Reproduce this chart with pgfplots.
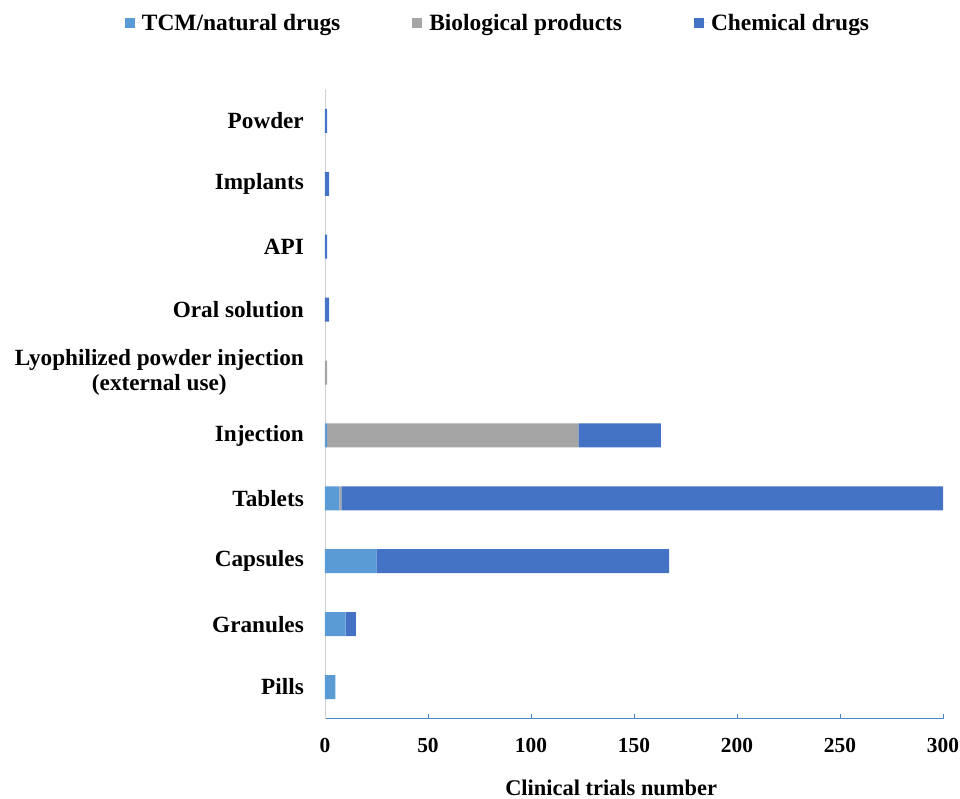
\documentclass[border=0pt]{standalone}
\usepackage{fontspec}
\setmainfont{Liberation Serif}
\usepackage{pgfplots}
\pgfplotsset{compat=1.18}
\definecolor{tcm}{HTML}{5B9BD5}
\definecolor{bio}{HTML}{A5A5A5}
\definecolor{chem}{HTML}{4472C4}
\definecolor{xax}{HTML}{4A86C8}
\definecolor{yax}{HTML}{D0D0D0}
\begin{document}
\begin{tikzpicture}
\begin{axis}[
  at={(0,0)}, anchor=south west,
  scale only axis,
  width=618bp, height=629bp,
  xbar stacked,
  bar width=24bp,
  xmin=0, xmax=300,
  ymin=-0.5, ymax=9.5,
  enlargelimits=false,
  axis x line=bottom, axis y line=left,
  axis line style={-},
  x axis line style={draw=xax, line width=0.8pt},
  y axis line style={draw=yax, line width=0.8pt},
  xtick={0,50,...,300},
  xtick style={draw=xax, line width=0.8pt},
  major tick length=5bp,
  tick align=inside,
  ytick={0,...,9},
  ytick style={draw=none},
  yticklabels={Pills,Granules,Capsules,Tablets,Injection,{Lyophilized powder injection\\(external use)},Oral solution,API,Implants,Powder},
  yticklabel style={align=center, font=\fontsize{23.3}{25}\selectfont\bfseries, inner sep=0pt, xshift=-21bp},
  xticklabel style={font=\fontsize{21.5}{22}\selectfont\bfseries, inner sep=0pt, yshift=-20bp},
  /pgf/number format/assume math mode=true,
  xlabel={Clinical trials number},
  xlabel style={at={(axis description cs:0.463,-0.11)}, anchor=center, font=\fontsize{22.5}{24}\selectfont\bfseries},
  legend style={draw=none, at={(axis description cs:0.28,1.106)}, anchor=center,
    legend columns=3, font=\fontsize{23.5}{25}\selectfont\bfseries,
    /tikz/every even column/.append style={column sep=70bp}},
  legend cell align=left,
  legend image code/.code={\path[#1] (0bp,-5bp) rectangle (10bp,5bp); \path (0bp,0bp) -- (15bp,0bp);},
]
\addplot[fill=tcm, draw=none] coordinates {(5,0) (10,1) (25,2) (7,3) (1,4) (0,5) (0,6) (0,7) (0,8) (0,9)};
\addplot[fill=bio, draw=none] coordinates {(0,0) (0,1) (0,2) (1,3) (122,4) (1,5) (0,6) (0,7) (0,8) (0,9)};
\addplot[fill=chem, draw=none] coordinates {(0,0) (5,1) (142,2) (292,3) (40,4) (0,5) (2,6) (1,7) (2,8) (1,9)};
\legend{TCM/natural drugs, Biological products, Chemical drugs}
\end{axis}
\pgfresetboundingbox
\path[use as bounding box] (-325bp,-80.5bp) rectangle (635bp,718.5bp);
\end{tikzpicture}
\end{document}
